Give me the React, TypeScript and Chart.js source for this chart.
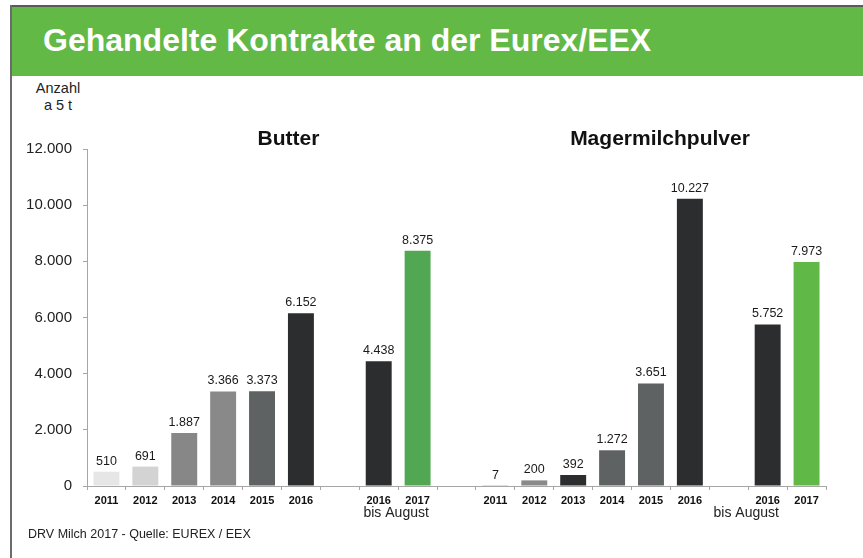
import React, { useEffect, useRef } from "react";
import { Chart, registerables } from "chart.js";

Chart.register(...registerables);

// ---- data ----
const fullYears = ["2011", "2012", "2013", "2014", "2015", "2016"];
const partialYears = ["2016", "2017"];
const partialNote = "bis August";

const butterFull = [510, 691, 1887, 3366, 3373, 6152];
const butterPartial = [4438, 8375];
const smpFull = [7, 200, 392, 1272, 3651, 10227];
const smpPartial = [5752, 7973];

const butterFullColors = ["#e6e6e6", "#d2d3d2", "#878787", "#898989", "#5e6262", "#2c2d2f"];
const butterPartialColors = ["#2c2d2f", "#52a852"];
const smpFullColors = ["#9a9a9a", "#8a8a8a", "#2c2d2f", "#5e6262", "#5e6262", "#2c2d2f"];
const smpPartialColors = ["#2c2d2f", "#60b946"];

const yMin = 0;
const yMax = 12000;
const yStep = 2000;

const FONT = '"Liberation Sans", Arial, Helvetica, sans-serif';

const labels = [...fullYears, "", ...partialYears, "", ...fullYears, "", ...partialYears];
const values: (number | null)[] = [...butterFull, null, ...butterPartial, null, ...smpFull, null, ...smpPartial];
const colors = [...butterFullColors, "#ffffff", ...butterPartialColors, "#ffffff", ...smpFullColors, "#ffffff", ...smpPartialColors];
const noteIndexPairs = [
  [fullYears.length + 1, fullYears.length + 2],
  [fullYears.length * 2 + 4, fullYears.length * 2 + 5],
];

const fmt = (v: number) => String(v).replace(/\B(?=(\d{3})+(?!\d))/g, ".");

const labelPlugin = {
  id: "valueLabels",
  afterDatasetsDraw(chart: any) {
    const ctx = chart.ctx;
    const meta = chart.getDatasetMeta(0);
    ctx.save();
    ctx.font = `12.5px ${FONT}`;
    ctx.fillStyle = "#1a1a1a";
    ctx.textAlign = "center";
    ctx.textBaseline = "alphabetic";
    meta.data.forEach((bar: any, i: number) => {
      const v = values[i];
      if (v == null) return;
      ctx.fillText(fmt(v), bar.x, bar.y - 7);
    });
    // "bis August" under the partial-year pairs
    const xs = chart.scales.x;
    ctx.font = `14px ${FONT}`;
    ctx.fillStyle = "#222";
    noteIndexPairs.forEach(([a, b]) => {
      const cx = (xs.getPixelForValue(a) + xs.getPixelForValue(b)) / 2 - 2;
      ctx.fillText(partialNote, cx, chart.chartArea.bottom + 31);
    });
    ctx.restore();
  },
};

export default function App() {
  const ref = useRef<HTMLCanvasElement | null>(null);

  useEffect(() => {
    if (!ref.current) return;
    const chart = new Chart(ref.current, {
      type: "bar",
      data: {
        labels,
        datasets: [
          {
            data: values,
            backgroundColor: colors,
            borderWidth: 0,
            barPercentage: 0.667,
            categoryPercentage: 1.0,
          },
        ],
      },
      options: {
        animation: false,
        responsive: false,
        devicePixelRatio: 1,
        layout: { padding: { top: 69, right: 37, left: 0, bottom: 0 } },
        plugins: { legend: { display: false }, tooltip: { enabled: false }, title: { display: false } },
        scales: {
          x: {
            offset: true,
            grid: { offset: true, drawOnChartArea: false, drawTicks: true, tickLength: 4, color: "#a6a6a6" },
            border: { display: true, color: "#a6a6a6" },
            ticks: {
              font: { family: FONT, size: 11, weight: "bold" },
              color: "#111",
              padding: 4,
              maxRotation: 0,
              autoSkip: false,
            },
            afterFit: (s: any) => {
              s.height = 54;
            },
          },
          y: {
            min: yMin,
            max: yMax,
            ticks: {
              stepSize: yStep,
              font: { family: FONT, size: 15 },
              color: "#222",
              padding: 11,
              callback: (v: any) => fmt(Number(v)),
            },
            grid: { drawOnChartArea: false, tickLength: 4, color: "#a6a6a6" },
            border: { display: true, color: "#a6a6a6" },
            afterFit: (s: any) => {
              s.width = 87;
            },
          },
        },
      },
      plugins: [labelPlugin],
    } as any);
    return () => chart.destroy();
  }, []);

  const txt: React.CSSProperties = { position: "absolute", fontFamily: FONT, whiteSpace: "nowrap", lineHeight: "normal" };

  return (
    <div style={{ position: "absolute", left: 0, top: 0, width: 863, height: 558, overflow: "hidden", background: "#fff" }}>
      <div style={{ position: "absolute", left: 10, top: 5, width: 853, height: 2, background: "#5a5a5a" }} />
      <div style={{ position: "absolute", left: 10, top: 5, width: 2, height: 553, background: "#6b6b6b" }} />
      <div style={{ position: "absolute", left: 12, top: 7, width: 851, height: 69, background: "#62b946" }} />
      <div style={{ ...txt, left: 43, top: 22, fontSize: 32, fontWeight: "bold", color: "#fff" }}>
        Gehandelte Kontrakte an der Eurex/EEX
      </div>
      <div style={{ ...txt, left: 18, width: 80, top: 79.5, fontSize: 14.5, lineHeight: "17px", color: "#222", textAlign: "center" }}>
        Anzahl
        <br />a 5 t
      </div>
      <canvas ref={ref} width={863} height={460} style={{ position: "absolute", left: 0, top: 80, width: 863, height: 460 }} />
      <div style={{ ...txt, left: 188.5, width: 200, top: 126, fontSize: 21, fontWeight: "bold", color: "#111", textAlign: "center" }}>
        Butter
      </div>
      <div style={{ ...txt, left: 560, width: 200, top: 126, fontSize: 21, fontWeight: "bold", color: "#111", textAlign: "center" }}>
        Magermilchpulver
      </div>
      <div style={{ ...txt, left: 28, top: 526.7, fontSize: 12.5, color: "#222" }}>
        DRV Milch 2017 - Quelle: EUREX / EEX
      </div>
    </div>
  );
}
